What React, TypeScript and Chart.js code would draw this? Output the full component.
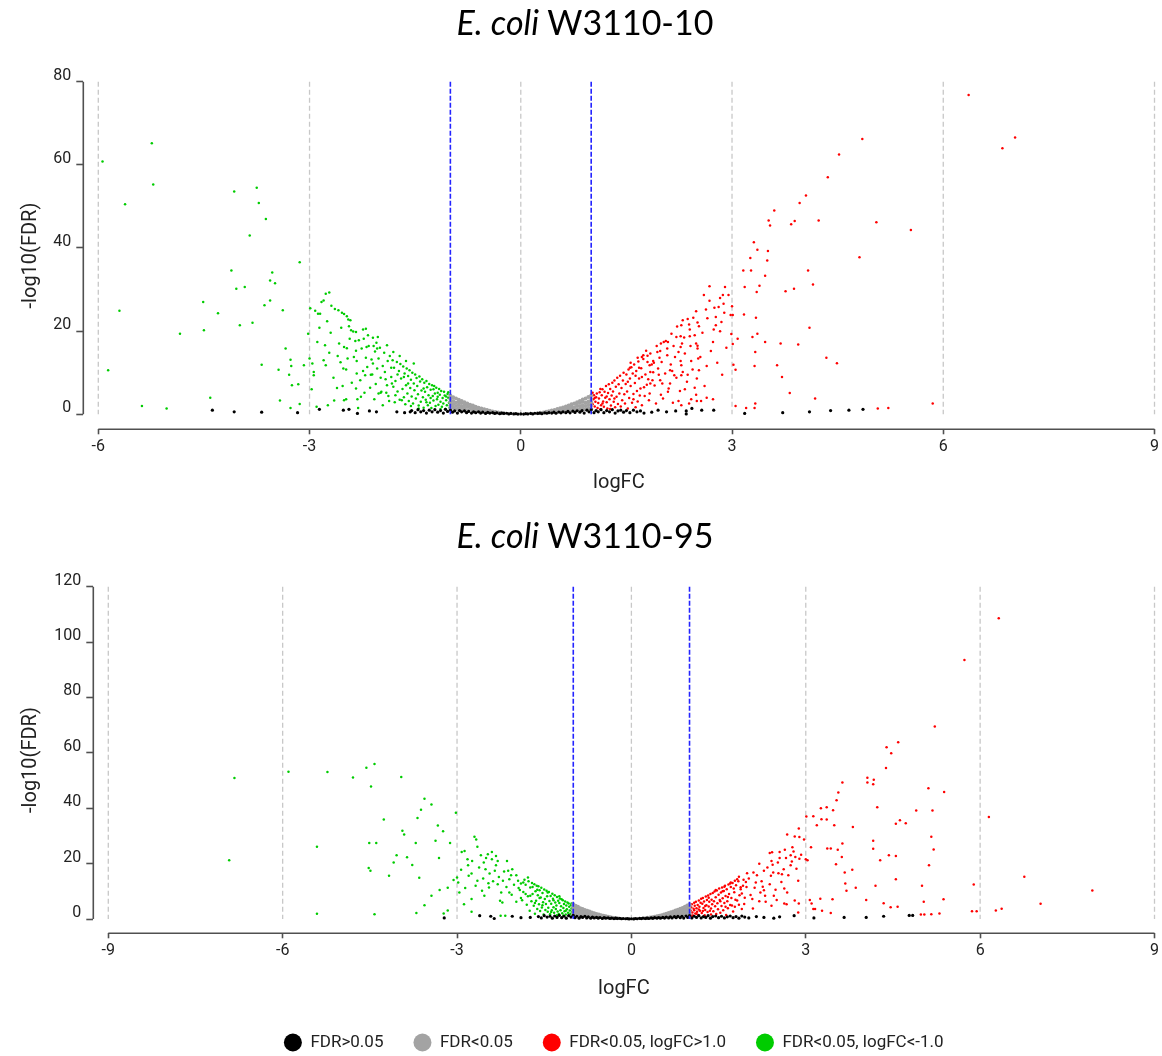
import React, { useEffect, useRef } from "react";
import { Chart, registerables } from "chart.js";

Chart.register(...registerables);

// ---------------- axis ticks ----------------
const w10XTicks = [-6, -3, 0, 3, 6, 9];
const w10YTicks = [0, 20, 40, 60, 80];
const w95XTicks = [-9, -6, -3, 0, 3, 6, 9];
const w95YTicks = [0, 20, 40, 60, 80, 100, 120];
const logFcCutoffs = [-1, 1];

const seriesLabels = ["FDR>0.05", "FDR<0.05", "FDR<0.05, logFC>1.0", "FDR<0.05, logFC<-1.0"];
const seriesColors = ["#000000", "#a3a3a3", "#ff0000", "#00cc00"];

// ---------------- E. coli W3110-10 (flat [logFC, -log10FDR] pairs) ----------------
const w10NotSig = [
  -4.38, 1.0, -4.07, 0.6, -3.68, 0.5, -3.17, 0.4, -2.86, 1.2, -2.52, 1.0, -2.44, 1.2, -2.32, 0.2,
  -2.15, 0.8, -2.05, 0.6, -1.76, 0.6, -1.65, 0.4, -1.57, 0.6,
  -1.55, 0.9, -1.5, 0.4, -1.46, 1.1, -1.42, 0.6, -1.38, 0.9, -1.34, 0.3, -1.3, 1.0, -1.26, 0.6,
  -1.22, 1.1, -1.18, 0.5, -1.14, 0.9, -1.1, 0.3, -1.07, 1.2, -1.04, 0.7, -1.0, 1.0, -0.97, 0.5,
  -0.94, 0.8, -0.9, 0.3, -0.87, 0.9, -0.84, 0.6, -0.8, 0.8, -0.77, 0.4, -0.74, 0.7, -0.7, 0.3,
  -0.67, 0.6, -0.64, 0.4, -0.6, 0.6, -0.57, 0.3, -0.54, 0.5, -0.5, 0.2, -0.47, 0.45, -0.44, 0.3,
  -0.4, 0.4, -0.37, 0.2, -0.34, 0.35, -0.3, 0.15, -0.27, 0.3, -0.24, 0.2, -0.2, 0.25, -0.17, 0.1,
  -0.14, 0.2, -0.1, 0.1, -0.07, 0.15, -0.04, 0.05, 0.0, 0.1, 0.04, 0.05, 0.07, 0.15, 0.1, 0.1,
  0.14, 0.2, 0.17, 0.1, 0.2, 0.25, 0.24, 0.2, 0.27, 0.3, 0.3, 0.15, 0.34, 0.35, 0.37, 0.25,
  0.4, 0.4, 0.44, 0.3, 0.47, 0.5, 0.5, 0.25, 0.54, 0.55, 0.57, 0.35, 0.6, 0.6, 0.64, 0.4,
  0.67, 0.7, 0.7, 0.35, 0.74, 0.75, 0.77, 0.45, 0.8, 0.85, 0.84, 0.5, 0.87, 0.9, 0.9, 0.3,
  0.94, 1.0, 0.97, 0.6, 1.0, 1.1, 1.04, 0.4, 1.07, 0.9, 1.1, 0.6, 1.14, 1.1, 1.18, 0.4,
  1.22, 0.9, 1.26, 0.6, 1.3, 1.1, 1.34, 0.3, 1.38, 0.8, 1.42, 1.0, 1.46, 0.5, 1.5, 0.9,
  1.55, 0.4, 1.6, 1.0, 1.65, 0.6, 1.7, 0.8, 1.75, 0.3,
  1.86, 0.5, 1.95, 1.0, 2.07, 0.6, 2.2, 0.8, 2.35, 0.1, 2.35, 0.8, 2.43, 1.4, 2.57, 1.0,
  2.74, 1.0, 3.18, 0.2, 3.72, 0.4, 4.1, 0.6, 4.4, 0.9, 4.66, 1.0, 4.86, 1.2,
];

const w10Sig = [
  -1.0, 1.3, -1.0, 2.1, -1.0, 2.9, -1.0, 3.7, -1.0, 4.5, -0.96, 1.6, -0.96, 2.4, -0.96, 3.2, -0.96, 4.1,
  -0.92, 1.2, -0.92, 2.0, -0.92, 2.8, -0.92, 3.8, -0.88, 1.5, -0.88, 2.3, -0.88, 3.1, -0.88, 3.5,
  -0.84, 1.1, -0.84, 1.9, -0.84, 2.7, -0.84, 3.2, -0.8, 1.4, -0.8, 2.2, -0.8, 2.9,
  -0.76, 1.0, -0.76, 1.8, -0.76, 2.6, -0.72, 1.3, -0.72, 2.0, -0.72, 2.3, -0.68, 0.9, -0.68, 1.6, -0.68, 2.1,
  -0.64, 1.2, -0.64, 1.8, -0.6, 0.8, -0.6, 1.4, -0.6, 1.6, -0.56, 1.0, -0.56, 1.4, -0.52, 0.7, -0.52, 1.2,
  -0.48, 0.9, -0.48, 1.05, -0.44, 0.6, -0.44, 0.85, -0.4, 0.7, -0.36, 0.55, -0.32, 0.45, -0.28, 0.35, -0.24, 0.25,
  0.24, 0.25, 0.28, 0.35, 0.32, 0.45, 0.36, 0.6, 0.4, 0.75, 0.44, 0.6, 0.44, 0.9, 0.48, 0.8, 0.48, 1.05,
  0.52, 0.7, 0.52, 1.25, 0.56, 1.0, 0.56, 1.45, 0.6, 0.8, 0.6, 1.3, 0.6, 1.65, 0.64, 1.1, 0.64, 1.85,
  0.68, 0.9, 0.68, 1.6, 0.68, 2.1, 0.72, 1.2, 0.72, 1.9, 0.72, 2.4, 0.76, 1.0, 0.76, 1.7, 0.76, 2.6,
  0.8, 1.3, 0.8, 2.1, 0.8, 2.9, 0.84, 1.1, 0.84, 1.9, 0.84, 2.7, 0.84, 3.2, 0.88, 1.4, 0.88, 2.2, 0.88, 3.0, 0.88, 3.55,
  0.92, 1.2, 0.92, 2.0, 0.92, 2.8, 0.92, 3.8, 0.96, 1.5, 0.96, 2.3, 0.96, 3.1, 0.96, 4.15,
  1.0, 1.3, 1.0, 2.1, 1.0, 2.9, 1.0, 3.7, 1.0, 4.5,
];

const w10Up = [
  6.36, 76.8, 7.02, 66.6, 6.84, 64.0, 4.85, 66.2, 4.52, 62.5, 4.36, 57.0, 4.05, 52.6, 3.96, 50.8,
  3.6, 49.0, 3.52, 46.6, 3.54, 45.4, 3.84, 45.7, 3.89, 46.5, 4.23, 46.6, 5.05, 46.2, 5.54, 44.3,
  3.31, 41.4, 3.36, 39.6, 3.51, 39.3, 3.26, 37.6, 3.5, 37.0, 4.81, 37.8, 3.16, 34.6, 3.27, 34.6,
  4.08, 34.6, 3.47, 33.3, 3.18, 30.6, 3.39, 30.9, 3.35, 29.4, 3.76, 29.6, 3.88, 30.2, 4.15, 31.2,
  2.68, 30.8, 2.9, 30.6, 2.6, 28.7, 2.87, 28.7, 2.95, 28.7, 2.83, 28.0, 2.68, 27.3, 2.88, 26.6,
  2.63, 25.2, 2.75, 25.6, 2.81, 25.8, 2.49, 24.8, 3.0, 26.0, 2.98, 23.9, 3.01, 23.9, 3.17, 24.0,
  3.34, 23.2, 2.89, 24.4, 2.77, 23.4, 2.65, 23.1, 2.45, 23.2, 2.37, 22.9, 2.3, 22.6, 2.51, 22.1,
  2.39, 21.6, 2.28, 21.4, 2.22, 21.1, 2.77, 21.4, 2.53, 21.2, 2.4, 20.4, 2.14, 19.4, 2.83, 20.0,
  2.99, 19.3, 2.27, 18.8, 2.21, 18.6, 2.4, 18.8, 2.32, 18.5, 3.36, 19.4, 3.29, 18.6, 4.1, 20.8,
  2.09, 17.4, 2.03, 17.4, 2.06, 17.6, 1.99, 17.0, 2.73, 17.4, 3.01, 16.9, 3.08, 18.2, 3.47, 17.4,
  3.69, 17.0, 3.94, 16.8, 2.49, 17.0, 2.29, 17.0, 2.27, 16.2, 2.17, 16.4, 1.93, 16.4, 1.98, 15.2,
  2.08, 14.2, 2.51, 16.5, 2.51, 15.8, 1.94, 15.0, 1.74, 14.2, 1.8, 14.1, 1.84, 14.6, 1.72, 13.8,
  1.97, 13.6, 2.52, 13.4, 3.33, 15.0, 4.34, 13.6, 4.49, 12.3, 3.64, 11.8, 3.02, 11.9, 3.05, 10.7,
  3.32, 11.6, 3.71, 9.0, 3.82, 5.1, 4.18, 3.8, 5.85, 2.6, 3.05, 2.0, 3.2, 1.5, 3.33, 2.6,
  3.32, 1.5, 5.07, 1.4, 5.22, 1.5, 1.88, 12.8, 1.89, 12.4, 2.27, 12.8, 2.28, 11.8, 2.42, 12.8,
  2.53, 10.6, 2.12, 10.6, 2.15, 10.4, 1.96, 9.5, 2.28, 9.4, 2.37, 9.5, 2.86, 9.5, 1.55, 11.2,
  1.68, 11.2, 1.83, 11.8, 1.88, 10.1, 2.18, 9.4, 2.12, 7.4, 1.84, 7.4, 1.87, 8.2, 2.33, 6.0,
  2.47, 6.4, 2.49, 4.7, 2.24, 3.2, 2.28, 2.2, 2.42, 3.6, 2.5, 3.2, 2.56, 3.2, 2.64, 4.0,
  2.73, 3.6, 2.09, 5.4, 1.99, 4.7, 2.01, 7.4,
  1.52, 7.8, 1.56, 12.4, 1.6, 3.6, 1.63, 9.3, 1.66, 13.6, 1.69, 4.5, 1.72, 9.0, 1.75, 6.5,
  1.78, 15.3, 1.81, 8.4, 1.83, 5.0, 1.86, 12.0, 1.9, 6.9, 1.92, 2.6, 1.95, 11.0, 1.98, 8.2,
  2.0, 12.6, 2.02, 3.8, 2.05, 9.8, 2.08, 15.8, 2.1, 6.2, 2.13, 12.0, 2.16, 2.8, 2.19, 13.8,
  2.21, 8.8, 2.24, 15.0, 2.26, 5.6, 2.3, 10.2, 2.33, 14.6, 2.36, 7.8, 2.39, 2.6, 2.41, 16.4,
  2.44, 10.8, 2.47, 19.0, 2.5, 8.6, 2.55, 13.8, 2.58, 19.6, 2.61, 6.8, 2.64, 11.6, 2.7, 15.2,
  2.74, 20.4, 2.79, 12.4, 2.85, 22.2, 2.92, 16.0,
  1.01, 1.3, 1.02, 2.4, 1.03, 3.6, 1.04, 4.6, 1.05, 1.9, 1.06, 3.0, 1.07, 4.1, 1.08, 5.0,
  1.09, 1.5, 1.1, 2.7, 1.02, 5.2, 1.05, 3.9, 1.11, 3.8, 1.12, 5.3, 1.13, 1.2, 1.14, 2.2,
  1.15, 4.6, 1.16, 6.0, 1.17, 3.1, 1.18, 1.8, 1.19, 5.4, 1.2, 4.0, 1.13, 6.1, 1.16, 2.6,
  1.21, 6.8, 1.22, 2.9, 1.23, 1.4, 1.24, 5.1, 1.25, 7.2, 1.26, 3.6, 1.27, 6.1, 1.28, 2.1,
  1.29, 4.5, 1.3, 7.6, 1.22, 4.3, 1.27, 1.3, 1.31, 5.5, 1.32, 3.0, 1.33, 8.1, 1.34, 1.7,
  1.35, 6.6, 1.36, 4.2, 1.37, 8.8, 1.38, 2.5, 1.39, 7.2, 1.4, 5.0, 1.33, 3.8,
  1.41, 9.3, 1.42, 1.9, 1.43, 6.3, 1.44, 3.4, 1.45, 8.1, 1.46, 10.0, 1.47, 4.8, 1.48, 2.6,
  1.49, 7.3, 1.5, 9.6, 1.51, 5.5, 1.52, 1.4, 1.53, 10.8, 1.54, 3.9, 1.55, 8.6, 1.56, 6.8,
  1.57, 11.3, 1.58, 2.8, 1.59, 9.8, 1.6, 4.9, 1.61, 12.0, 1.62, 7.5, 1.63, 1.7, 1.64, 10.4,
  1.65, 5.6, 1.66, 3.1, 1.67, 12.7, 1.68, 8.6, 1.7, 6.2, 1.71, 11.1, 1.72, 2.2, 1.74, 13.3,
  1.76, 4.4, 1.77, 9.6, 1.79, 7.1, 1.8, 12.6, 1.82, 3.4, 1.84, 10.2,
];

const w10Down = [
  -5.94, 60.8, -5.24, 65.2, -5.22, 55.3, -5.62, 50.5, -5.7, 24.9, -5.86, 10.6, -5.38, 2.0, -5.03, 1.4,
  -4.84, 19.4, -4.51, 27.0, -4.5, 20.2, -4.3, 24.3, -4.41, 4.0, -4.11, 34.6, -4.07, 53.6, -4.04, 30.2,
  -3.99, 21.4, -3.92, 30.6, -3.85, 43.0, -3.81, 22.0, -3.75, 54.5, -3.72, 50.8, -3.68, 11.9, -3.64, 26.2,
  -3.62, 47.0, -3.56, 27.4, -3.56, 32.2, -3.53, 34.1, -3.49, 31.5, -3.44, 10.7, -3.42, 3.3, -3.38, 25.0,
  -3.34, 15.8, -3.29, 9.5, -3.27, 13.1, -3.26, 11.6, -3.25, 7.0, -3.27, 1.5, -3.16, 7.2, -3.14, 36.6,
  -3.14, 2.5, -3.08, 11.8, -3.02, 19.4, -3.0, 13.4, -2.99, 25.5, -2.97, 6.0, -2.96, 12.2, -2.94, 10.2,
  -2.94, 9.4, -2.92, 24.9, -2.9, 1.8, -2.89, 17.4, -2.88, 24.2, -2.85, 24.2, -2.83, 27.0, -2.8, 27.4,
  -2.77, 29.0, -2.72, 29.3, -2.78, 16.6, -2.77, 11.8, -2.74, 2.2, -2.72, 14.8, -2.69, 26.1, -2.65, 3.3,
  -2.64, 25.3, -2.61, 6.3, -2.59, 25.0, -2.58, 17.0, -2.56, 12.5, -2.54, 24.4, -2.53, 6.8, -2.51, 24.1,
  -2.51, 16.2, -2.47, 23.6, -2.46, 13.4, -2.45, 22.8, -2.44, 21.2, -2.42, 22.6, -2.41, 20.2, -2.47, 15.9,
  -2.51, 3.4, -2.48, 3.6, -2.52, 11.0, -2.38, 19.9, -2.35, 17.6, -2.34, 19.8, -2.34, 15.3, -2.33, 12.8,
  -2.34, 6.2, -2.32, 3.6, -2.31, 1.5, -2.28, 8.2, -2.26, 15.8, -2.24, 20.4, -2.2, 20.6, -2.23, 18.2,
  -2.22, 5.2, -2.21, 9.4, -2.19, 16.2, -2.18, 11.4, -2.16, 16.4, -2.13, 9.5, -2.12, 13.2, -2.11, 9.6,
  -2.1, 18.4, -2.09, 16.4, -2.07, 15.1, -2.06, 7.3, -2.05, 17.2, -2.04, 15.8, -2.03, 18.6, -2.02, 13.4,
  -2.02, 5.0, -1.99, 5.2, -1.98, 5.4, -1.96, 11.6, -1.94, 14.8, -1.92, 8.4, -1.91, 5.2, -1.9, 16.6,
  -1.89, 12.8, -1.88, 4.4, -1.86, 14.0, -1.84, 11.2, -1.83, 7.4,
  -1.52, 12.2, -1.56, 2.0, -1.6, 7.4, -1.63, 12.8, -1.66, 9.0, -1.69, 3.4, -1.72, 14.0, -1.75, 9.6,
  -1.78, 4.6, -1.81, 15.0, -1.84, 9.0, -1.87, 3.2, -1.9, 7.0, -1.93, 10.2, -1.96, 2.2, -1.99, 8.8,
  -2.0, 16.0, -2.04, 11.0, -2.08, 3.6, -2.1, 12.2, -2.14, 6.4, -2.17, 19.0, -2.2, 13.6, -2.24, 10.4,
  -2.27, 4.2, -2.3, 17.8, -2.33, 9.8, -2.37, 13.8, -2.4, 7.6, -2.43, 18.2, -2.48, 10.8, -2.55, 20.8,
  -2.6, 14.0, -2.66, 8.8, -2.7, 19.6, -2.75, 22.4, -2.8, 13.0, -2.86, 20.8,
  -1.01, 1.6, -1.02, 2.8, -1.03, 4.0, -1.04, 4.9, -1.05, 2.2, -1.06, 3.4, -1.07, 1.3, -1.08, 4.5,
  -1.09, 5.4, -1.1, 2.6, -1.03, 5.3, -1.06, 4.3, -1.11, 3.9, -1.12, 1.8, -1.13, 5.6, -1.14, 3.0,
  -1.15, 4.7, -1.16, 6.1, -1.17, 2.3, -1.18, 5.2, -1.19, 3.6, -1.2, 6.4, -1.14, 1.3, -1.18, 4.2,
  -1.21, 2.0, -1.22, 5.0, -1.23, 6.8, -1.24, 3.3, -1.25, 4.4, -1.26, 7.0, -1.27, 1.5, -1.28, 5.9,
  -1.29, 2.8, -1.3, 7.3, -1.24, 6.0, -1.28, 3.9, -1.31, 4.6, -1.32, 2.2, -1.33, 6.5, -1.34, 8.0,
  -1.35, 3.5, -1.36, 5.4, -1.37, 7.6, -1.38, 1.6, -1.39, 4.1, -1.4, 8.4, -1.34, 2.9, -1.38, 6.2,
  -1.41, 5.7, -1.42, 3.0, -1.43, 7.9, -1.44, 9.1, -1.45, 2.1, -1.46, 4.8, -1.47, 6.8, -1.48, 8.7,
  -1.49, 3.8, -1.5, 9.6, -1.45, 1.4, -1.51, 5.8, -1.52, 7.4, -1.53, 2.6, -1.54, 10.0, -1.55, 4.3,
  -1.56, 8.3, -1.57, 6.3, -1.58, 10.6, -1.59, 3.2, -1.6, 9.2, -1.61, 5.0, -1.62, 11.0, -1.63, 7.0,
  -1.64, 2.4, -1.65, 9.8, -1.66, 4.1, -1.67, 11.5, -1.68, 6.1, -1.7, 8.6, -1.71, 12.1, -1.72, 3.5,
  -1.73, 10.4, -1.75, 5.5, -1.76, 12.6, -1.78, 8.0, -1.79, 2.9, -1.8, 11.2, -1.81, 6.6, -1.82, 13.0,
];

// ---------------- E. coli W3110-95 ----------------
const w95NotSig = [
  -3.22, 0.4, -2.61, 1.2, -2.42, 1.0, -2.36, 0.2, -2.05, 1.0, -1.9, 0.5, -1.74, 0.6,
  -1.6, 0.9, -1.55, 0.4, -1.5, 1.2, -1.45, 0.7, -1.4, 1.0, -1.36, 0.3, -1.32, 1.1, -1.28, 0.6,
  -1.24, 1.3, -1.2, 0.5, -1.16, 1.0, -1.12, 0.3, -1.08, 1.2, -1.04, 0.7, -1.0, 1.3, -0.97, 0.5,
  -0.94, 1.0, -0.9, 0.3, -0.87, 0.9, -0.84, 0.6, -0.8, 1.0, -0.77, 0.4, -0.74, 0.8, -0.7, 0.3,
  -0.67, 0.7, -0.64, 0.4, -0.6, 0.6, -0.57, 0.3, -0.54, 0.55, -0.5, 0.2, -0.47, 0.5, -0.44, 0.3,
  -0.4, 0.45, -0.37, 0.2, -0.34, 0.35, -0.3, 0.15, -0.27, 0.3, -0.24, 0.2, -0.2, 0.25, -0.17, 0.1,
  -0.14, 0.2, -0.1, 0.1, -0.07, 0.15, -0.04, 0.05, 0.0, 0.1, 0.04, 0.05, 0.07, 0.2, 0.1, 0.1,
  0.14, 0.25, 0.17, 0.15, 0.2, 0.3, 0.24, 0.2, 0.27, 0.35, 0.3, 0.2, 0.34, 0.4, 0.37, 0.25,
  0.4, 0.5, 0.44, 0.3, 0.47, 0.55, 0.5, 0.3, 0.54, 0.6, 0.57, 0.35, 0.6, 0.7, 0.64, 0.4,
  0.67, 0.8, 0.7, 0.4, 0.74, 0.85, 0.77, 0.5, 0.8, 0.95, 0.84, 0.5, 0.87, 1.0, 0.9, 0.35,
  0.94, 1.1, 0.97, 0.6, 1.0, 1.2, 1.04, 0.4, 1.08, 1.0, 1.12, 0.6, 1.16, 1.2, 1.2, 0.4,
  1.24, 0.9, 1.28, 0.6, 1.32, 1.2, 1.36, 0.3, 1.4, 0.9, 1.45, 1.1, 1.5, 0.5, 1.55, 1.0,
  1.6, 0.4, 1.65, 0.8, 1.7, 1.1, 1.75, 0.5, 1.8, 0.9, 1.85, 0.3, 1.9, 1.1, 1.95, 0.7,
  2.02, 0.4, 2.15, 0.9, 2.28, 0.6, 2.45, 0.3, 2.55, 0.8, 2.8, 1.2, 3.14, 0.4, 3.66, 0.6,
  4.04, 0.6, 4.34, 1.0, 4.78, 1.3, 4.84, 1.3,
];

const w95Sig = [
  -1.0, 1.6, -1.0, 2.6, -1.0, 3.6, -1.0, 4.6, -1.0, 5.3, -0.96, 2.0, -0.96, 3.0, -0.96, 4.0, -0.96, 4.8,
  -0.92, 1.6, -0.92, 2.6, -0.92, 3.6, -0.92, 4.4, -0.88, 2.0, -0.88, 3.0, -0.88, 3.9,
  -0.84, 1.6, -0.84, 2.6, -0.84, 3.6, -0.8, 2.0, -0.8, 2.9, -0.8, 3.3, -0.76, 1.5, -0.76, 2.4, -0.76, 3.0,
  -0.72, 1.9, -0.72, 2.7, -0.68, 1.4, -0.68, 2.1, -0.68, 2.4, -0.64, 1.7, -0.64, 2.1, -0.6, 1.2, -0.6, 1.8,
  -0.56, 1.5, -0.56, 1.6, -0.52, 1.0, -0.52, 1.4, -0.48, 1.2, -0.44, 0.8, -0.44, 1.0, -0.4, 0.8,
  -0.36, 0.65, -0.32, 0.5, -0.28, 0.4, -0.24, 0.3,
  0.24, 0.3, 0.28, 0.42, 0.32, 0.52, 0.36, 0.68, 0.4, 0.85, 0.44, 0.8, 0.44, 1.0, 0.48, 1.2,
  0.52, 1.0, 0.52, 1.4, 0.56, 1.3, 0.56, 1.65, 0.6, 1.2, 0.6, 1.9, 0.64, 1.6, 0.64, 2.15,
  0.68, 1.4, 0.68, 2.0, 0.68, 2.45, 0.72, 1.8, 0.72, 2.75, 0.76, 1.5, 0.76, 2.4, 0.76, 3.05,
  0.8, 2.0, 0.8, 2.9, 0.8, 3.35, 0.84, 1.6, 0.84, 2.6, 0.84, 3.7, 0.88, 2.0, 0.88, 3.0, 0.88, 4.0,
  0.92, 1.6, 0.92, 2.6, 0.92, 3.6, 0.92, 4.45, 0.96, 2.0, 0.96, 3.0, 0.96, 4.0, 0.96, 4.85,
  1.0, 1.6, 1.0, 2.6, 1.0, 3.6, 1.0, 4.6, 1.0, 5.3,
];

const w95Up = [
  6.32, 108.6, 5.73, 93.5, 5.22, 69.5, 4.59, 63.8, 4.39, 62.0, 4.47, 59.9, 4.38, 54.5, 3.63, 49.3,
  4.06, 51.0, 4.17, 50.3, 4.06, 49.3, 4.16, 48.7, 3.56, 45.7, 3.53, 42.9, 5.11, 47.2, 5.38, 45.9,
  4.23, 40.4, 4.9, 39.2, 5.18, 39.2, 3.26, 40.0, 3.36, 40.4, 3.47, 39.3, 3.01, 37.0, 3.13, 37.1,
  3.27, 36.0, 3.36, 35.9, 6.15, 36.8, 4.62, 35.7, 4.55, 34.4, 4.72, 34.6, 3.19, 33.9, 3.49, 33.9,
  3.81, 33.2, 2.88, 32.7, 2.68, 30.5, 2.81, 29.8, 2.89, 29.6, 2.97, 28.7, 5.16, 29.7, 4.16, 28.3,
  3.63, 27.3, 3.09, 25.9, 3.37, 25.5, 3.43, 25.5, 4.16, 25.4, 5.2, 25.1, 3.55, 25.0, 2.55, 24.2,
  2.64, 25.0, 2.77, 25.9, 2.38, 23.8, 2.42, 24.1, 2.79, 24.4, 2.74, 23.0, 2.82, 22.4, 3.62, 22.4,
  4.43, 23.0, 4.55, 22.8, 4.28, 21.2, 2.89, 21.8, 3.0, 21.6, 3.03, 21.2, 2.41, 21.0, 2.43, 19.6,
  2.55, 22.0, 2.66, 22.0, 2.2, 20.0, 2.74, 19.4, 3.52, 19.8, 5.12, 19.4, 3.8, 17.8, 3.67, 16.8,
  2.53, 16.5, 2.59, 16.2, 2.28, 17.4, 2.1, 16.8, 1.99, 16.5, 1.85, 15.3, 2.4, 15.6, 2.87, 13.8,
  6.76, 15.3, 4.55, 14.4, 3.68, 12.8, 3.86, 11.3, 3.7, 10.2, 4.2, 12.0, 5.0, 12.0, 5.89, 12.5,
  7.93, 10.3, 7.04, 5.5, 6.27, 3.1, 6.37, 3.7, 5.86, 2.8, 5.94, 2.8, 5.37, 7.1, 5.03, 6.2,
  5.3, 2.0, 4.98, 1.6, 5.04, 1.6, 5.16, 1.7, 4.34, 5.7, 4.46, 4.3, 4.58, 4.4, 4.04, 6.9,
  3.46, 7.1, 3.25, 7.3, 3.07, 6.9, 3.1, 5.6, 3.13, 3.6, 3.16, 3.6, 3.28, 3.0, 3.43, 2.2,
  2.81, 6.7, 2.88, 5.6, 2.87, 2.4, 2.63, 5.6, 2.67, 5.3, 2.5, 6.9, 2.68, 9.6, 2.63, 11.0,
  2.45, 8.4, 2.22, 9.6, 2.08, 7.2, 2.31, 6.2, 2.41, 4.8, 2.26, 11.7, 2.28, 10.4, 2.14, 13.2,
  1.97, 13.4, 1.92, 12.0, 1.88, 10.8, 1.78, 13.8, 1.71, 13.2, 1.6, 11.7,
  1.53, 6.4, 1.57, 10.0, 1.62, 4.4, 1.66, 8.0, 1.7, 12.8, 1.73, 4.9, 1.76, 11.0, 1.79, 7.0,
  1.82, 14.4, 1.85, 5.2, 1.9, 9.2, 1.94, 5.4, 1.98, 11.6, 2.02, 14.6, 2.05, 8.7, 2.09, 3.8,
  2.12, 11.3, 2.16, 15.8, 2.2, 6.4, 2.24, 13.6, 2.3, 8.4, 2.34, 18.6, 2.38, 12.6, 2.44, 16.8,
  2.48, 10.6, 2.52, 20.4, 2.58, 13.4, 2.62, 18.0, 2.7, 15.8, 2.76, 20.8, 2.84, 18.2, 2.92, 23.2,
  1.01, 1.8, 1.02, 3.0, 1.03, 4.3, 1.04, 5.3, 1.05, 2.4, 1.06, 1.3, 1.07, 3.7, 1.08, 5.9,
  1.09, 4.8, 1.1, 2.0, 1.04, 1.2, 1.08, 3.2, 1.11, 6.2, 1.12, 3.9, 1.13, 2.6, 1.14, 5.1,
  1.15, 1.5, 1.16, 6.7, 1.17, 4.4, 1.18, 3.0, 1.19, 5.9, 1.2, 7.3, 1.12, 1.9, 1.16, 3.4,
  1.21, 2.2, 1.22, 5.5, 1.23, 7.6, 1.24, 4.0, 1.25, 6.3, 1.26, 1.4, 1.27, 3.3, 1.28, 8.1,
  1.29, 5.0, 1.3, 6.9, 1.23, 2.9, 1.27, 4.7, 1.31, 2.5, 1.32, 8.5, 1.33, 4.5, 1.34, 6.2,
  1.35, 3.0, 1.36, 9.0, 1.37, 1.6, 1.38, 7.0, 1.39, 5.3, 1.4, 9.4, 1.33, 7.7, 1.37, 3.8,
  1.41, 2.8, 1.42, 6.4, 1.43, 9.9, 1.44, 4.6, 1.45, 7.9, 1.46, 1.8, 1.47, 10.3, 1.48, 5.7,
  1.49, 3.5, 1.5, 8.8, 1.45, 10.5, 1.51, 11.0, 1.52, 6.9, 1.53, 2.3, 1.54, 9.6, 1.55, 4.7,
  1.56, 11.4, 1.57, 7.5, 1.58, 3.2, 1.59, 10.1, 1.6, 5.8, 1.61, 12.0, 1.62, 8.3, 1.63, 1.5,
  1.64, 10.8, 1.65, 6.4, 1.66, 3.9, 1.67, 12.5, 1.68, 9.0, 1.7, 5.1, 1.71, 11.6, 1.72, 7.6,
  1.74, 13.0, 1.75, 2.7, 1.77, 9.7, 1.78, 4.4, 1.8, 12.2, 1.82, 6.7, 1.84, 13.6, 1.86, 8.6,
  1.88, 11.5, 1.9, 3.6, 1.93, 14.2, 1.95, 7.7,
];

const w95Down = [
  -6.83, 50.9, -6.92, 21.2, -5.9, 53.2, -5.23, 53.1, -4.79, 51.1, -4.56, 54.6, -4.42, 56.0, -4.48, 47.9,
  -3.96, 51.3, -5.41, 26.1, -5.41, 1.9, -4.42, 1.7, -4.51, 27.5, -4.39, 27.5, -4.52, 18.4, -4.49, 17.4,
  -4.26, 35.9, -4.17, 15.6, -4.09, 20.4, -4.04, 23.0, -3.94, 31.9, -3.91, 30.5, -3.86, 22.3, -3.77, 19.5,
  -3.71, 27.5, -3.68, 36.5, -3.65, 14.9, -3.7, 2.2, -3.62, 39.5, -3.56, 43.4, -3.44, 41.4, -3.56, 5.0,
  -3.44, 8.4, -3.37, 28.3, -3.33, 33.8, -3.31, 22.0, -3.3, 10.5, -3.24, 31.7, -3.16, 11.3, -3.12, 27.5,
  -3.16, 3.1, -3.23, 2.0, -3.06, 14.1, -3.02, 38.4, -3.0, 15.0, -2.98, 13.2, -2.96, 9.6, -2.92, 24.2,
  -2.87, 24.6, -2.88, 5.3, -2.82, 21.6, -2.81, 19.4, -2.75, 7.2, -2.75, 2.6, -2.75, 16.4, -2.7, 29.7,
  -2.67, 28.7, -2.65, 26.1, -2.65, 13.8, -2.59, 23.0, -2.57, 10.2, -2.54, 20.4, -2.51, 18.0, -2.47, 23.4,
  -2.4, 24.2, -2.46, 12.9, -2.45, 11.4, -2.53, 8.4, -2.4, 21.6, -2.33, 22.8, -2.3, 21.0, -2.35, 17.4,
  -2.3, 12.6, -2.26, 6.6, -2.22, 6.0, -2.25, 1.2, -2.17, 1.2, -2.21, 13.8, -2.14, 21.0, -2.12, 17.4,
  -2.07, 15.8, -2.05, 18.0, -1.98, 15.8, -2.1, 9.6, -1.95, 13.8, -1.92, 10.5,
  -1.53, 5.0, -1.58, 7.6, -1.62, 10.6, -1.66, 5.8, -1.7, 11.6, -1.74, 8.4, -1.78, 15.0, -1.82, 9.0,
  -1.86, 13.2, -1.9, 7.6, -1.94, 11.2, -1.98, 6.2, -2.02, 12.4, -2.06, 8.8, -2.1, 14.4, -2.15, 11.6,
  -2.19, 17.2, -2.24, 9.6, -2.28, 15.2, -2.33, 19.4, -2.38, 13.6, -2.44, 16.4, -2.5, 22.0, -2.55, 14.6,
  -2.62, 18.6, -2.68, 12.0, -2.74, 21.0, -2.8, 15.6, -2.86, 11.2, -2.93, 17.8,
  -1.01, 1.4, -1.02, 2.6, -1.03, 3.8, -1.04, 5.0, -1.05, 1.9, -1.06, 3.1, -1.07, 4.4, -1.08, 5.6,
  -1.09, 2.3, -1.1, 6.0, -1.03, 5.6, -1.07, 1.2, -1.11, 3.5, -1.12, 4.9, -1.13, 1.6, -1.14, 6.3,
  -1.15, 2.8, -1.16, 5.4, -1.17, 4.0, -1.18, 6.8, -1.19, 2.1, -1.2, 7.1, -1.13, 3.0, -1.17, 1.3,
  -1.21, 4.6, -1.22, 3.2, -1.23, 7.4, -1.24, 5.8, -1.25, 1.8, -1.26, 6.6, -1.27, 2.7, -1.28, 8.0,
  -1.29, 4.9, -1.3, 3.6, -1.24, 8.2, -1.28, 1.4, -1.31, 6.0, -1.32, 8.6, -1.33, 2.3, -1.34, 4.3,
  -1.35, 7.3, -1.36, 9.1, -1.37, 3.2, -1.38, 5.5, -1.39, 8.3, -1.4, 1.7, -1.34, 6.8, -1.38, 2.5,
  -1.41, 6.5, -1.42, 9.8, -1.43, 4.1, -1.44, 2.6, -1.45, 8.2, -1.46, 10.2, -1.47, 5.4, -1.48, 3.3,
  -1.49, 7.2, -1.5, 10.7, -1.44, 9.6, -1.51, 1.6, -1.52, 6.1, -1.53, 9.4, -1.54, 4.2, -1.55, 11.3,
  -1.56, 7.8, -1.57, 2.9, -1.58, 10.4, -1.59, 5.3, -1.6, 11.8, -1.61, 8.6, -1.62, 3.6, -1.63, 12.0,
  -1.64, 6.6, -1.65, 10.0, -1.66, 1.9, -1.67, 12.6, -1.68, 4.8, -1.7, 9.0, -1.71, 13.0, -1.72, 6.4,
  -1.74, 11.4, -1.75, 3.0, -1.77, 13.6, -1.78, 8.2, -1.8, 5.2, -1.82, 12.4, -1.84, 14.2, -1.86, 9.8,
  -1.88, 6.8, -1.9, 12.8,
];

// ---------------- helpers ----------------
function toPoints(flat: number[]) {
  const out: { x: number; y: number }[] = [];
  for (let i = 0; i + 1 < flat.length; i += 2) out.push({ x: flat[i], y: flat[i + 1] });
  return out;
}

const guidesPlugin = {
  id: "volcanoGuides",
  afterLayout(chart: any, _args: any, opts: any) {
    // centre the shared legend under the figure as in the original layout
    if (chart.legend && opts.legendShift) {
      chart.legend.left += opts.legendShift;
      chart.legend.right += opts.legendShift;
    }
  },
  beforeDatasetsDraw(chart: any, _args: any, opts: any) {
    const { ctx } = chart;
    const xs = chart.scales.x;
    const ys = chart.scales.y;
    const top = ys.getPixelForValue(opts.yTicks[opts.yTicks.length - 1]);
    const zero = ys.getPixelForValue(0);
    ctx.save();
    ctx.strokeStyle = "#c8c8c8";
    ctx.lineWidth = 1.3;
    ctx.setLineDash([5, 3]);
    for (const v of opts.xTicks) {
      const px = xs.getPixelForValue(v);
      ctx.beginPath();
      ctx.moveTo(px, top);
      ctx.lineTo(px, zero);
      ctx.stroke();
    }
    ctx.restore();
  },
  afterDatasetsDraw(chart: any, _args: any, opts: any) {
    const { ctx } = chart;
    const xs = chart.scales.x;
    const ys = chart.scales.y;
    const top = ys.getPixelForValue(opts.yTicks[opts.yTicks.length - 1]);
    const zero = ys.getPixelForValue(0);
    ctx.save();
    ctx.strokeStyle = "#2424ff";
    ctx.lineWidth = 1.6;
    ctx.setLineDash([5, 2]);
    for (const v of opts.cutoffs) {
      const px = xs.getPixelForValue(v);
      ctx.beginPath();
      ctx.moveTo(px, top);
      ctx.lineTo(px, zero);
      ctx.stroke();
    }
    ctx.restore();
  },
  afterDraw(chart: any, _args: any, opts: any) {
    const { ctx, chartArea } = chart;
    const xs = chart.scales.x;
    const ys = chart.scales.y;
    ctx.save();
    ctx.strokeStyle = "#505050";
    ctx.lineWidth = 1.6;
    ctx.setLineDash([]);
    ctx.beginPath();
    ctx.moveTo(xs.getPixelForValue(opts.xTicks[0]), chartArea.bottom);
    ctx.lineTo(xs.getPixelForValue(opts.xTicks[opts.xTicks.length - 1]), chartArea.bottom);
    ctx.moveTo(chartArea.left, ys.getPixelForValue(opts.yTicks[opts.yTicks.length - 1]));
    ctx.lineTo(chartArea.left, ys.getPixelForValue(0));
    ctx.stroke();
    ctx.restore();
  },
};

type PanelProps = {
  series: number[][];
  xTicks: number[];
  yTicks: number[];
  xMin: number;
  yMin: number;
  height: number;
  padding: { top: number; right: number; left: number; bottom: number };
  yAxisWidth: number;
  xAxisHeight: number;
  xTitlePadBottom: number;
  yTitlePadTop: number;
  showLegend: boolean;
  legendShift: number;
};

function VolcanoPanel(p: PanelProps) {
  const ref = useRef<HTMLCanvasElement | null>(null);
  useEffect(() => {
    if (!ref.current) return;
    const radii = [1.6, 2.0, 1.25, 1.25];
    const chart = new Chart(ref.current, {
      type: "scatter",
      data: {
        datasets: p.series.map((arr, i) => ({
          label: seriesLabels[i],
          data: toPoints(arr),
          backgroundColor: seriesColors[i],
          borderColor: seriesColors[i],
          borderWidth: 0,
          pointRadius: radii[i],
          pointHoverRadius: radii[i],
          pointStyle: "circle",
        })),
      },
      options: {
        animation: false,
        responsive: false,
        events: [],
        layout: { padding: p.padding },
        plugins: {
          tooltip: { enabled: false },
          legend: p.showLegend
            ? {
                display: true,
                position: "bottom",
                align: "center",
                labels: {
                  usePointStyle: true,
                  pointStyle: "circle",
                  pointStyleWidth: 18,
                  boxHeight: 12.7,
                  padding: 30,
                  color: "#222",
                  font: { family: "Roboto", size: 17 },
                },
              }
            : { display: false },
          volcanoGuides: { xTicks: p.xTicks, yTicks: p.yTicks, cutoffs: logFcCutoffs, legendShift: p.legendShift },
        } as any,
        scales: {
          x: {
            type: "linear",
            min: p.xMin,
            max: p.xTicks[p.xTicks.length - 1],
            afterBuildTicks: (s: any) => {
              s.ticks = p.xTicks.map((v) => ({ value: v }));
            },
            afterFit: (s: any) => {
              s.height = p.xAxisHeight;
            },
            grid: { drawOnChartArea: false, drawTicks: true, tickLength: 5, tickColor: "#505050", tickWidth: 1.6 },
            border: { display: false },
            ticks: {
              color: "#222",
              font: { family: "Roboto", size: 16 },
              padding: 3,
              maxRotation: 0,
              autoSkip: false,
              callback: (v: any) => String(v),
            },
            title: {
              display: true,
              text: "logFC",
              color: "#222",
              font: { family: "Roboto", size: 20 },
              padding: { top: 0, bottom: p.xTitlePadBottom },
            },
          },
          y: {
            type: "linear",
            min: p.yMin,
            max: p.yTicks[p.yTicks.length - 1],
            afterBuildTicks: (s: any) => {
              s.ticks = p.yTicks.map((v) => ({ value: v }));
            },
            afterFit: (s: any) => {
              s.width = p.yAxisWidth;
            },
            grid: { drawOnChartArea: false, drawTicks: true, tickLength: 7, tickColor: "#505050", tickWidth: 1.6 },
            border: { display: false },
            ticks: {
              color: "#222",
              font: { family: "Roboto", size: 16 },
              padding: 5,
              labelOffset: -6,
              autoSkip: false,
              callback: (v: any) => String(v),
            },
            title: {
              display: true,
              text: "-log10(FDR)",
              color: "#222",
              font: { family: "Roboto", size: 20 },
              padding: { top: p.yTitlePadTop, bottom: 0 },
            },
          },
        },
      },
      plugins: [guidesPlugin as any],
    });
    return () => chart.destroy();
  }, []);
  return <canvas ref={ref} width={1162} height={p.height} style={{ display: "block", width: 1162, height: p.height }} />;
}

const titleStyle: React.CSSProperties = {
  position: "absolute",
  left: 0,
  width: 1170,
  textAlign: "center",
  fontFamily: "Lato, 'Open Sans', sans-serif",
  fontSize: 34,
  lineHeight: "44px",
  color: "#000",
  whiteSpace: "nowrap",
};

export default function App() {
  return (
    <div style={{ position: "absolute", left: 0, top: 0, width: 1162, height: 1056, overflow: "hidden", background: "#fff" }}>
      <div style={{ position: "absolute", left: 0, top: 0 }}>
        <VolcanoPanel
          series={[w10NotSig, w10Sig, w10Up, w10Down]}
          xTicks={w10XTicks}
          yTicks={w10YTicks}
          xMin={-6.213}
          yMin={-3.61}
          height={505}
          padding={{ top: 81.7, right: 5.8, left: 0, bottom: 0 }}
          yAxisWidth={83.3}
          xAxisHeight={75.7}
          xTitlePadBottom={10}
          yTitlePadTop={19}
          showLegend={false}
          legendShift={0}
        />
      </div>
      <div style={{ position: "absolute", left: 0, top: 505 }}>
        <VolcanoPanel
          series={[w95NotSig, w95Sig, w95Up, w95Down]}
          xTicks={w95XTicks}
          yTicks={w95YTicks}
          xMin={-9.258}
          yMin={-5.15}
          height={556}
          padding={{ top: 81.7, right: 6.5, left: 0, bottom: 0 }}
          yAxisWidth={93.3}
          xAxisHeight={70.7}
          xTitlePadBottom={3}
          yTitlePadTop={19}
          showLegend={true}
          legendShift={36}
        />
      </div>
      <div style={{ ...titleStyle, top: 0 }}>
        <i>E. coli</i> W3110-10
      </div>
      <div style={{ ...titleStyle, top: 513 }}>
        <i>E. coli</i> W3110-95
      </div>
    </div>
  );
}
